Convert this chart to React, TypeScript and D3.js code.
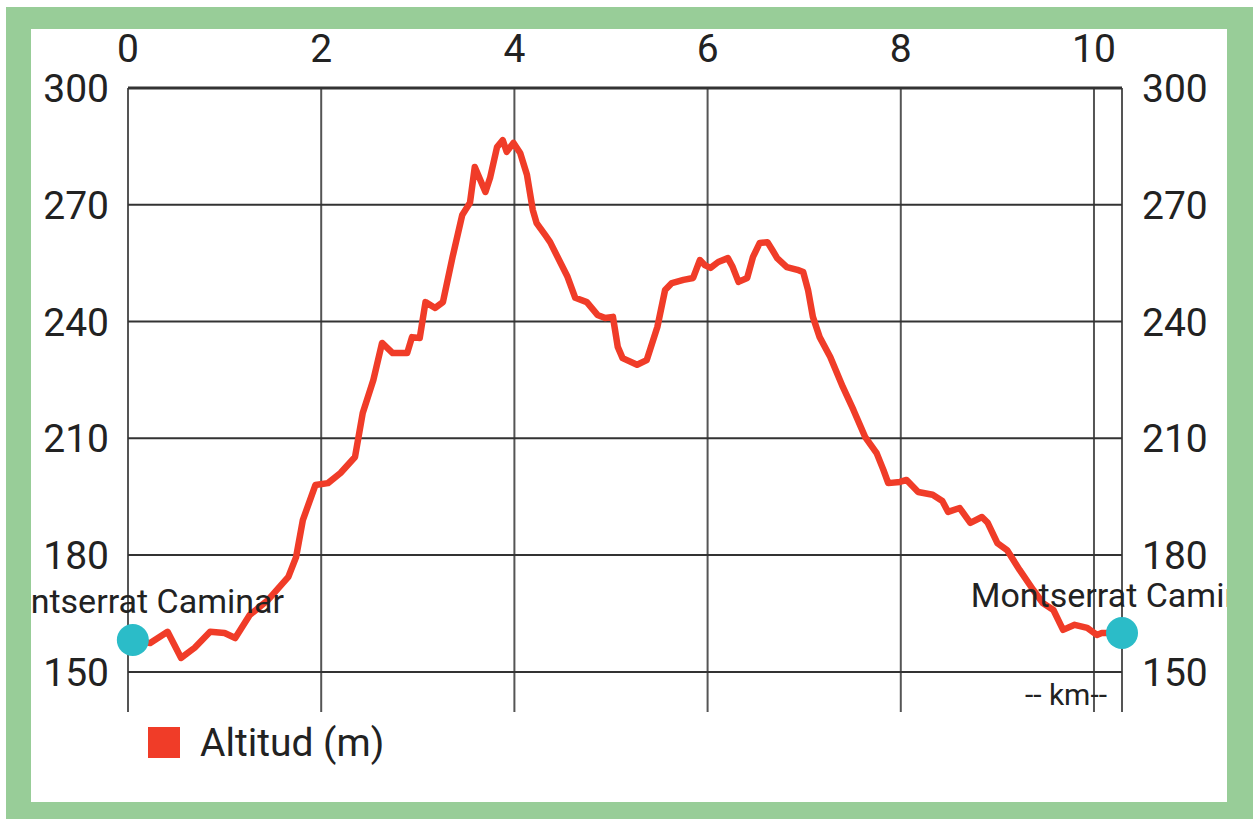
import * as d3 from 'd3';

// Elevation profile (km, metres)
const distKm = [
  0.05, 0.23, 0.41, 0.55, 0.69, 0.85, 1.0, 1.11, 1.26, 1.45, 1.66, 1.74, 1.81, 1.94, 2.07, 2.2, 2.35,
  2.43, 2.54, 2.63, 2.74, 2.89, 2.94, 3.02, 3.08, 3.18, 3.26, 3.36, 3.46, 3.54, 3.59, 3.7, 3.75, 3.82,
  3.88, 3.92, 3.99, 4.06, 4.13, 4.19, 4.23, 4.32, 4.37, 4.55, 4.63, 4.75, 4.86, 4.94, 5.02, 5.07, 5.12,
  5.27, 5.37, 5.48, 5.56, 5.63, 5.75, 5.85, 5.92, 5.97, 6.03, 6.11, 6.21, 6.26, 6.32, 6.41, 6.47, 6.54,
  6.62, 6.67, 6.72, 6.82, 6.93, 6.99, 7.04, 7.09, 7.16, 7.27, 7.4, 7.51, 7.63, 7.75, 7.82, 7.87, 7.99,
  8.06, 8.18, 8.33, 8.43, 8.49, 8.61, 8.72, 8.84, 8.9, 9.0, 9.1, 9.23, 9.37, 9.47, 9.58, 9.68, 9.8,
  9.93, 10.03, 10.08, 10.29,
];
const altitude = [
  158.2, 157.4, 160.3, 153.6, 156.2, 160.3, 160.0, 158.7, 164.6, 168.5, 174.4, 179.5, 189.0, 198.0,
  198.5, 201.1, 205.2, 216.5, 225.0, 234.5, 231.9, 231.9, 236.0, 235.8, 245.0, 243.5, 245.0, 256.6,
  267.4, 270.5, 279.7, 273.3, 277.1, 284.8, 286.6, 283.6, 285.9, 283.3, 277.7, 268.7, 265.3, 262.2,
  260.4, 251.5, 246.1, 245.0, 241.7, 240.9, 241.2, 233.5, 230.6, 228.9, 230.1, 238.6, 248.1, 249.9,
  250.7, 251.2, 255.8, 254.5, 253.8, 255.3, 256.3, 254.0, 250.2, 251.2, 256.6, 260.2, 260.4, 258.4,
  256.3, 254.0, 253.3, 252.7, 248.1, 241.2, 236.0, 230.9, 223.2, 217.3, 210.4, 206.2, 201.9, 198.5,
  198.8, 199.3, 196.2, 195.5, 193.9, 191.1, 192.1, 188.3, 189.8, 188.3, 183.1, 181.3, 176.2, 171.1,
  167.7, 165.9, 160.8, 162.1, 161.3, 159.5, 160.0, 160.0,
];

const xTicks = [0, 2, 4, 6, 8, 10];
const yTicks = [150, 180, 210, 240, 270, 300];
const endpointLabel = 'Montserrat Caminar';

const W = 1253;
const H = 819;
const plot = { left: 128, right: 1122, top: 88, bottom: 712 };
const LINE = '#f03c28';
const DOT = '#2bbcc8';
const FONT = 'Roboto, "Noto Sans", sans-serif';

export default function App() {
  const x = d3.scaleLinear().domain([0, 10.29]).range([plot.left, plot.right]);
  const y = d3.scaleLinear().domain([139.7, 300]).range([plot.bottom, plot.top]);

  const pts: [number, number][] = distKm.map((d, i) => [d, altitude[i]]);
  const line = d3
    .line<[number, number]>()
    .x((d) => x(d[0]))
    .y((d) => y(d[1]));

  const first = pts[0];
  const last = pts[pts.length - 1];

  return (
    <svg
      width={W}
      height={H}
      style={{ position: 'absolute', left: 0, top: 0, display: 'block' }}
      fontFamily={FONT}
    >
      <defs>
        <clipPath id="card">
          <rect x={31} y={29} width={1196} height={773} />
        </clipPath>
      </defs>
      <rect width={W} height={H} fill="#fff" />
      <rect x={6} y={7} width={W - 6} height={H - 7} fill="#98cd98" />
      <rect x={31} y={29} width={1196} height={773} fill="#fff" />

      {/* vertical grid lines */}
      {xTicks.map((t) => (
        <line key={'vx' + t} x1={x(t)} x2={x(t)} y1={plot.top} y2={plot.bottom} stroke="#555" strokeWidth={2} />
      ))}
      <line x1={plot.right} x2={plot.right} y1={plot.top} y2={plot.bottom} stroke="#555" strokeWidth={2} />

      {/* horizontal grid lines */}
      {yTicks.map((t) => (
        <line
          key={'hy' + t}
          x1={plot.left}
          x2={plot.right}
          y1={y(t)}
          y2={y(t)}
          stroke="#333"
          strokeWidth={t === 300 ? 3 : 2}
        />
      ))}

      {/* top x labels */}
      {xTicks.map((t) => (
        <text key={'xl' + t} x={x(t)} y={62} textAnchor="middle" fontSize={39} fill="#222">
          {t}
        </text>
      ))}

      {/* y labels both sides */}
      {yTicks.map((t) => (
        <g key={'yl' + t}>
          <text x={109} y={y(t)} dy="0.36em" textAnchor="end" fontSize={39} fill="#222">
            {t}
          </text>
          <text x={1142} y={y(t)} dy="0.36em" textAnchor="start" fontSize={39} fill="#222">
            {t}
          </text>
        </g>
      ))}

      {/* elevation line */}
      <path d={line(pts) ?? ''} fill="none" stroke={LINE} strokeWidth={6.5} strokeLinejoin="round" strokeLinecap="round" />

      {/* endpoints */}
      <circle cx={x(first[0])} cy={y(first[1])} r={16} fill={DOT} />
      <circle cx={x(last[0])} cy={y(last[1])} r={16} fill={DOT} />
      <g clipPath="url(#card)">
        <text x={x(first[0])} y={y(first[1]) - 27} textAnchor="middle" fontSize={34} fill="#222">
          {endpointLabel}
        </text>
        <text x={x(last[0])} y={y(last[1]) - 26} textAnchor="middle" fontSize={34} fill="#222">
          {endpointLabel}
        </text>
      </g>

      <text x={1107} y={705} textAnchor="end" fontSize={30} fill="#222">
        -- km--
      </text>

      {/* legend */}
      <rect x={148} y={727} width={32} height={31} fill={LINE} />
      <text x={200} y={756} fontSize={39} fill="#222">
        Altitud (m)
      </text>
    </svg>
  );
}
